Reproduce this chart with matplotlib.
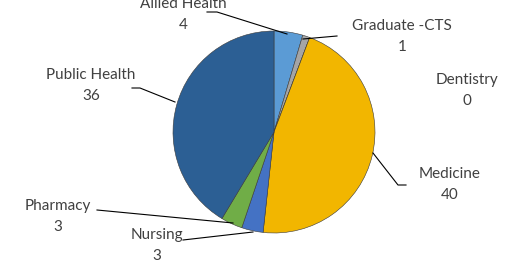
import matplotlib.pyplot as plt

plt.rcParams['font.family'] = ['Lato', 'DejaVu Sans']

labels = ['Allied Health', 'Graduate -CTS', 'Dentistry', 'Medicine', 'Nursing', 'Pharmacy', 'Public Health']
values = [4, 1, 0, 40, 3, 3, 36]
colors = ['#5B9BD5', '#A5A5A5', '#ED7D31', '#F2B600', '#4472C4', '#70AD47', '#2C5F94']

# label centre (px from top-left) and leader line points (px)
label_pos = {
    'Allied Health': (183, -3),
    'Graduate -CTS': (402, 19),
    'Dentistry': (467, 73),
    'Medicine': (450, 167),
    'Nursing': (157, 228),
    'Pharmacy': (58, 199),
    'Public Health': (91, 68),
}
leaders = {
    'Allied Health': [(207, 12), (217, 12), (287, 34)],
    'Graduate -CTS': [(303, 39), (337, 36)],
    'Medicine': [(373, 153), (398, 185), (406, 185)],
    'Nursing': [(183, 240), (253, 232)],
    'Pharmacy': [(97, 210), (233, 223)],
    'Public Health': [(132, 88), (140, 88), (175, 102)],
}

H = 260


def fy(y):
    return H - y


fig = plt.figure(figsize=(5.1, 2.6), dpi=100)
ax = fig.add_axes([0, 0, 1, 1])

ax.pie(values, colors=colors, startangle=90, counterclock=False,
       center=(274, fy(132)), radius=101, frame=True,
       wedgeprops=dict(edgecolor='#3a3a3a', linewidth=0.4))

ax.set_xlim(0, 510)
ax.set_ylim(0, H)
ax.set_aspect('equal')
ax.axis('off')

for name, val in zip(labels, values):
    x, y = label_pos[name]
    ax.text(x, fy(y), name + '\n' + str(val), ha='center', va='top', fontsize=11,
            color='#404040', linespacing=1.65)

for name, pts in leaders.items():
    xs = [p[0] for p in pts]
    ys = [fy(p[1]) for p in pts]
    ax.plot(xs, ys, color='black', linewidth=0.8)

fig.savefig('out.png', dpi=100)
